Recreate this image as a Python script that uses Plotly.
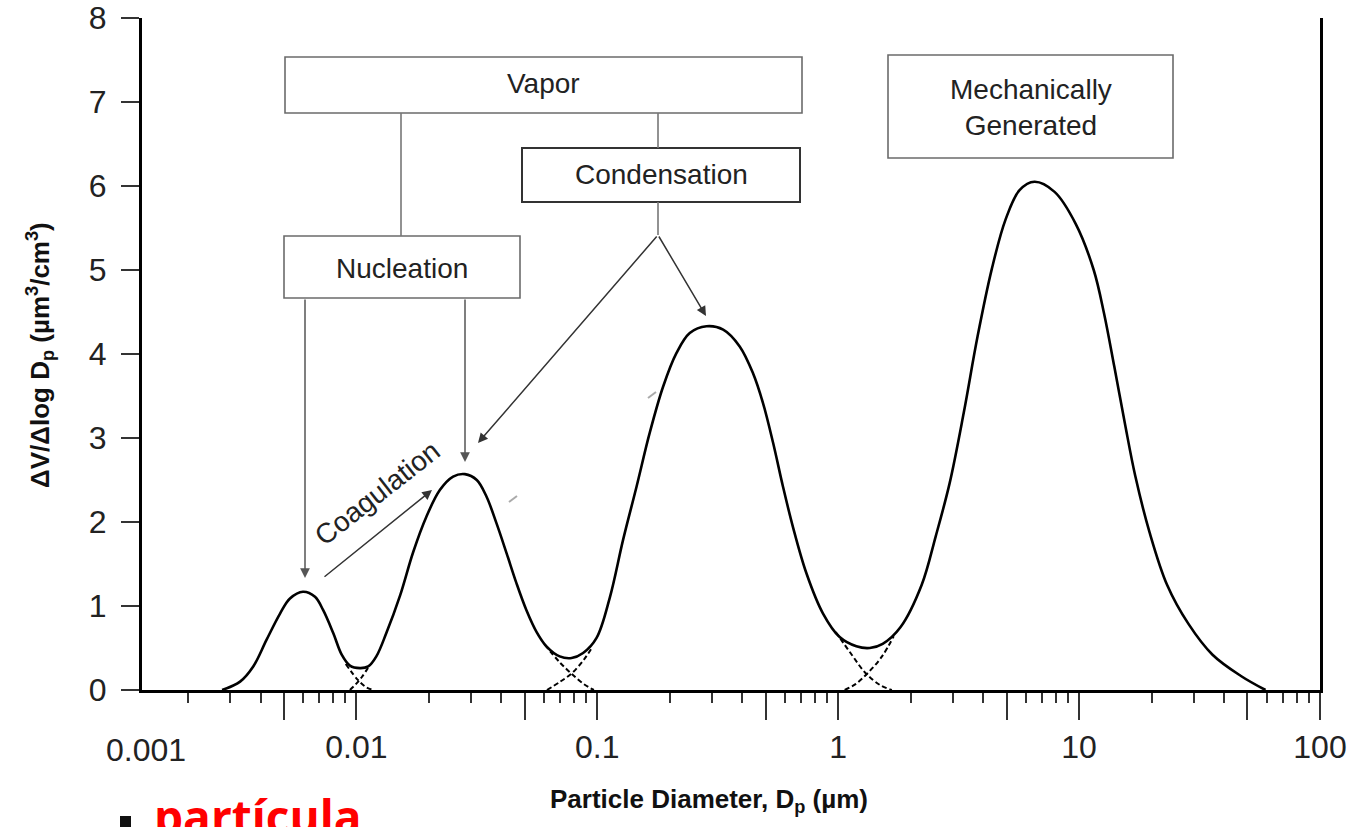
import plotly.graph_objects as go

# ---------------- data ----------------
diameter_um = [0.00277, 0.00329, 0.00373, 0.00424, 0.00482, 0.00530, 0.00600, 0.00673,
               0.00728, 0.00802, 0.00869, 0.00940, 0.01035, 0.0112, 0.0121, 0.0133,
               0.0152, 0.0172, 0.0195, 0.0222, 0.0252, 0.0282, 0.0316, 0.0347, 0.0382,
               0.0420, 0.0462, 0.0508, 0.0560, 0.0615, 0.0698, 0.0782, 0.0873, 0.0993,
               0.1127, 0.128, 0.1455, 0.165, 0.1875, 0.213, 0.242, 0.284, 0.333, 0.390,
               0.443, 0.488, 0.537, 0.590, 0.649, 0.738, 0.865, 1.014, 1.19, 1.352,
               1.53, 1.816, 2.22, 2.54, 2.90, 3.32, 3.79, 4.34, 4.95, 5.66, 6.53, 7.91,
               9.68, 11.5, 12.7, 14.0, 15.5, 17.1, 19.6, 23.2, 28.4, 35.8, 46.8, 59.4]
dv_dlogdp = [0.0, 0.10, 0.28, 0.60, 0.91, 1.09, 1.17, 1.11,
             0.95, 0.675, 0.42, 0.29, 0.26, 0.28, 0.40, 0.675,
             1.13, 1.64, 2.06, 2.38, 2.54, 2.57, 2.50, 2.30, 1.98,
             1.63, 1.27, 0.95, 0.69, 0.52, 0.40, 0.38, 0.44, 0.62,
             1.10, 1.79, 2.42, 3.06, 3.61, 4.01, 4.25, 4.33, 4.29, 4.09,
             3.77, 3.41, 2.94, 2.42, 1.94, 1.39, 0.91, 0.63, 0.52, 0.50,
             0.55, 0.75, 1.25, 1.83, 2.46, 3.30, 4.21, 5.01, 5.60, 5.95, 6.05, 5.93,
             5.55, 5.00, 4.48, 3.85, 3.17, 2.55, 1.88, 1.25, 0.79, 0.42, 0.17, 0.0]

# individual-mode tails drawn dashed where the modes overlap
mode1_right_d = [0.00903, 0.01014, 0.01094, 0.01172]
mode1_right_v = [0.31, 0.12, 0.036, 0.0]
mode2_left_d = [0.0094, 0.00995, 0.01054, 0.01138]
mode2_left_v = [0.0, 0.07, 0.155, 0.30]
mode2_right_d = [0.0605, 0.0698, 0.0784, 0.0879, 0.0968]
mode2_right_v = [0.54, 0.33, 0.19, 0.07, 0.0]
mode3_left_d = [0.0618, 0.0698, 0.0784, 0.0879, 0.0948]
mode3_left_v = [0.0, 0.095, 0.20, 0.36, 0.50]
mode3_right_d = [0.977, 1.138, 1.30, 1.49, 1.67]
mode3_right_v = [0.69, 0.42, 0.20, 0.06, 0.0]
mode4_left_d = [1.064, 1.18, 1.325, 1.52, 1.70]
mode4_left_v = [0.0, 0.07, 0.20, 0.40, 0.64]

x_major_ticks = [0.005, 0.01, 0.05, 0.1, 0.5, 1, 5, 10, 50, 100]
x_major_text = ["", "0.01", "", "0.1", "", "1", "", "10", "", "100"]
x_minor_ticks = [m * 10.0 ** e for e in (-3, -2, -1, 0, 1) for m in (2, 3, 4, 6, 7, 8, 9)]
y_ticks = [0, 1, 2, 3, 4, 5, 6, 7, 8]

# ---------------- layout helpers (pixel -> paper) ----------------
W, H = 1356, 827
L, R, T, B = 142, 1320, 18, 690
FONT = "Liberation Sans, Arial, sans-serif"


def px(x):
    return (x - L) / (R - L)


def py(y):
    return (B - y) / (B - T)


fig = go.Figure()

dash_style = dict(color="black", width=2, dash="5px,3px", shape="spline")
for dd, vv in [(mode1_right_d, mode1_right_v), (mode2_left_d, mode2_left_v),
               (mode2_right_d, mode2_right_v), (mode3_left_d, mode3_left_v),
               (mode3_right_d, mode3_right_v), (mode4_left_d, mode4_left_v)]:
    fig.add_trace(go.Scatter(x=dd, y=vv, mode="lines", line=dash_style,
                             showlegend=False, hoverinfo="skip"))

fig.add_trace(go.Scatter(x=diameter_um, y=dv_dlogdp, mode="lines",
                         line=dict(color="black", width=2.6, shape="spline", smoothing=1.0),
                         showlegend=False))

shapes = []
# boxes
for (x0, y0, x1, y1, col, w) in [(285, 57, 802, 113, "#6b6b6b", 1.6),
                                 (522, 148, 800, 202, "#333333", 2.0),
                                 (284, 236, 520, 298, "#6b6b6b", 1.6),
                                 (888, 55, 1173, 158, "#6b6b6b", 1.6)]:
    shapes.append(dict(type="rect", xref="paper", yref="paper",
                       x0=px(x0), x1=px(x1), y0=py(y1), y1=py(y0),
                       line=dict(color=col, width=w), fillcolor="white", layer="above"))
# connector lines
for (x0, y0, x1, y1) in [(401, 113, 401, 236), (658, 113, 658, 148), (658, 202, 658, 235)]:
    shapes.append(dict(type="line", xref="paper", yref="paper",
                       x0=px(x0), x1=px(x1), y0=py(y0), y1=py(y1),
                       line=dict(color="#777777", width=1.6)))
# faint leftover dashes
for (x0, y0, x1, y1) in [(509, 502, 517, 496), (648, 398, 656, 392)]:
    shapes.append(dict(type="line", xref="paper", yref="paper",
                       x0=px(x0), x1=px(x1), y0=py(y0), y1=py(y1),
                       line=dict(color="#aaaaaa", width=2)))
# bullet at the bottom
shapes.append(dict(type="rect", xref="paper", yref="paper",
                   x0=px(120), x1=px(131), y0=py(827), y1=py(816),
                   line=dict(width=0), fillcolor="#111111"))

annotations = []
box_font = dict(family=FONT, size=28, color="#222222")
for (txt, cx, cy) in [("Vapor", 543, 84), ("Condensation", 661, 175),
                      ("Nucleation", 402, 268), ("Mechanically<br>Generated", 1031, 108)]:
    annotations.append(dict(text=txt, x=px(cx), y=py(cy), xref="paper", yref="paper",
                            showarrow=False, font=box_font, xanchor="center", yanchor="middle"))

annotations.append(dict(text="Coagulation", x=px(377), y=py(494), xref="paper", yref="paper",
                        xanchor="center", yanchor="middle",
                        showarrow=False, textangle=-38, font=box_font))

# arrows: (tip_x, tip_y, tail_x, tail_y, colour)
for (tx, ty, sx, sy, col) in [(305, 578, 305, 298, "#555555"),
                              (465, 462, 465, 298, "#555555"),
                              (478, 443, 658, 235, "#333333"),
                              (706, 316, 658, 235, "#333333"),
                              (432, 490, 323, 578, "#333333")]:
    annotations.append(dict(x=px(tx), y=py(ty), xref="paper", yref="paper",
                            ax=sx - tx, ay=sy - ty, text="", showarrow=True,
                            arrowhead=2, arrowsize=1.3, arrowwidth=1.5, arrowcolor=col,
                            standoff=0))

# axis titles and extra label
annotations.append(dict(text="<b>Particle Diameter, D<sub>p</sub> (µm)</b>",
                        x=px(709), y=py(800), xref="paper", yref="paper", showarrow=False,
                        xanchor="center", yanchor="middle",
                        font=dict(family=FONT, size=26, color="#111111")))
annotations.append(dict(text="<b>ΔV/Δlog D<sub>p</sub> (µm<sup>3</sup>/cm<sup>3</sup>)</b>",
                        x=px(40), y=py(355), xref="paper", yref="paper", showarrow=False,
                        xanchor="center", yanchor="middle",
                        textangle=-90, font=dict(family=FONT, size=26, color="#111111")))
annotations.append(dict(text="0.001", x=px(146), y=py(750), xref="paper", yref="paper",
                        xanchor="center", yanchor="middle",
                        showarrow=False, font=dict(family=FONT, size=32, color="#222222")))
annotations.append(dict(text="<b>partícula</b>", x=px(152), y=py(816), xref="paper",
                        yref="paper", xanchor="left", yanchor="middle", showarrow=False,
                        font=dict(family="Open Sans, Noto Sans, sans-serif", size=46,
                                  color="#ff0000")))

fig.update_layout(
    width=W, height=H,
    margin=dict(l=L, r=W - R, t=T, b=H - B),
    paper_bgcolor="white", plot_bgcolor="white",
    font=dict(family=FONT, size=32, color="#222222"),
    shapes=shapes, annotations=annotations,
    showlegend=False,
    xaxis=dict(type="log", range=[-2.89, 2.0], showgrid=False, zeroline=False,
               automargin=False,
               showline=True, linecolor="black", linewidth=3, mirror=False,
               tickmode="array", tickvals=x_major_ticks, ticktext=x_major_text,
               ticks="outside", ticklen=27, tickwidth=2, tickcolor="#333333",
               tickfont=dict(family=FONT, size=32, color="#222222"),
               minor=dict(tickmode="array", tickvals=x_minor_ticks, ticks="outside",
                          ticklen=10, tickwidth=2, tickcolor="#333333", showgrid=False)),
    yaxis=dict(range=[0, 8], showgrid=False, zeroline=False,
               automargin=False,
               showline=True, linecolor="black", linewidth=3, mirror=True,
               tickmode="array", tickvals=y_ticks,
               ticks="outside", ticklen=18, tickwidth=2, tickcolor="#333333",
               ticklabelstandoff=8,
               tickfont=dict(family=FONT, size=32, color="#222222")),
)

fig.write_html("out.html", config={"displayModeBar": False},
               post_script="document.body.style.margin='0';document.body.style.overflow='hidden';")
